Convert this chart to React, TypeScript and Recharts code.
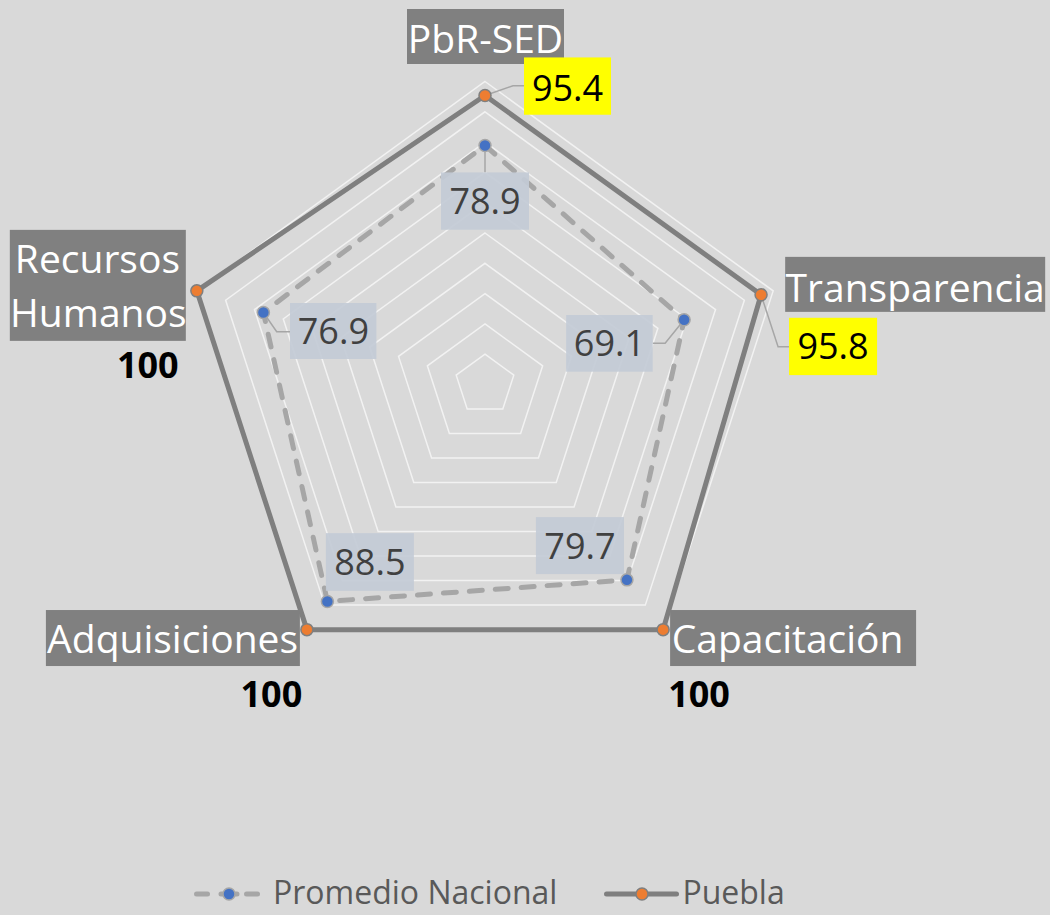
import React from 'react';
import { RadarChart, Radar, PolarGrid, PolarAngleAxis, PolarRadiusAxis, Legend } from 'recharts';

// ---------- data ----------
const categories = ['PbR-SED', 'Transparencia', 'Capacitación', 'Adquisiciones', 'Recursos Humanos'];
const promedioNacional = [78.9, 69.1, 79.7, 88.5, 76.9];
const puebla = [95.4, 95.8, 100, 100, 100];
const seriesNames = ['Promedio Nacional', 'Puebla'];
const radiusDomain: [number, number] = [0, 100];
const radiusTickCount = 11;

const data = categories.map((c, i) => ({
  category: c,
  promedio: promedioNacional[i],
  puebla: puebla[i],
}));

// ---------- layout / style ----------
const W = 1050;
const H = 915;
const CX = 485;
const CY = 384.5;
const R = 303;
const FONT = '"Open Sans", "Noto Sans", "DejaVu Sans", sans-serif';
const BG = '#d9d9d9';
const GREY_DARK = '#7f7f7f';
const GREY_LIGHT = '#a6a6a6';
const ORANGE = '#ed7d31';
const BLUE = '#4472c4';

type CatCfg = { box: [number, number, number, number]; lines: { t: string; x: number; y: number }[] };
// offsets relative to the axis vertex
const CATEGORY_LABELS: Record<string, CatCfg> = {
  'PbR-SED': { box: [-78, -72.5, 157, 55], lines: [{ t: 'PbR-SED', x: 0.5, y: -28.5 }] },
  Transparencia: { box: [12, -34, 260, 55], lines: [{ t: 'Transparencia', x: 142, y: 10.8 }] },
  'Capacitación': { box: [7, -19.6, 246, 56], lines: [{ t: 'Capacitación', x: 124.5, y: 23 }] },
  Adquisiciones: { box: [-261, -19.6, 254, 56], lines: [{ t: 'Adquisiciones', x: -134.3, y: 23 }] },
  'Recursos Humanos': {
    box: [-187, -61, 176, 111],
    lines: [
      { t: 'Recursos', x: -99.4, y: -17.6 },
      { t: 'Humanos', x: -98.5, y: 35.8 },
    ],
  },
};

type ValCfg = { box?: [number, number, number, number]; text: [number, number]; leader?: [number, number][] };
// offsets relative to the data point
const PUEBLA_LABELS: Record<string, ValCfg> = {
  'PbR-SED': { box: [39, -38, 87, 57.3], text: [82.5, 6], leader: [[0, 0], [28, -9.7], [39, -9.7]] },
  Transparencia: { box: [28, 23, 88, 57.3], text: [72, 64], leader: [[0, 0], [17, 52], [28, 52]] },
  'Capacitación': { text: [36, 77.5] },
  Adquisiciones: { text: [-35.5, 77.5] },
  'Recursos Humanos': { text: [-49, 87.5] },
};
const PROMEDIO_LABELS: Record<string, ValCfg> = {
  'PbR-SED': { box: [-44, 27, 88, 57.3], text: [0, 68.5], leader: [[0, 0], [0, 27]] },
  Transparencia: { box: [-118, -4.8, 86.6, 56.7], text: [-74.7, 36.5], leader: [[0, 0], [-19, 23.5], [-31.4, 23.5]] },
  'Capacitación': { box: [-91, -62.8, 88, 57], text: [-47, -21.3] },
  Adquisiciones: { box: [-1.5, -68.3, 88, 57.7], text: [42.5, -26.5] },
  'Recursos Humanos': { box: [26.6, -9.5, 86.4, 56], text: [70, 31.5], leader: [[0, 0], [13.3, 19.2], [26.6, 19.2]] },
};

const fmt = (v: number) => (Number.isInteger(v) ? String(v) : v.toFixed(1));

const CategoryTick = (props: any) => {
  const { x, y, payload } = props;
  const name = payload?.value as string;
  const cfg = CATEGORY_LABELS[name];
  if (!cfg) return null;
  const dx = x - CX;
  const dy = y - CY;
  const len = Math.hypot(dx, dy) || 1;
  const vx = CX + (dx * R) / len;
  const vy = CY + (dy * R) / len;
  const [bx, by, bw, bh] = cfg.box;
  return (
    <g>
      <rect x={vx + bx} y={vy + by} width={bw} height={bh} fill="#808080" />
      {cfg.lines.map((l, i) => (
        <text key={i} x={vx + l.x} y={vy + l.y} textAnchor="middle" fill="#ffffff" fontSize={39} fontFamily={FONT}>
          {l.t}
        </text>
      ))}
    </g>
  );
};

const makeDot = (series: 'promedio' | 'puebla') => (props: any) => {
  const { cx, cy, index } = props;
  const row = data[index];
  if (!row || cx == null || cy == null) return <g key={`d-${series}-${index}`} />;
  const value = series === 'promedio' ? row.promedio : row.puebla;
  const cfg = (series === 'promedio' ? PROMEDIO_LABELS : PUEBLA_LABELS)[row.category];
  const isPuebla = series === 'puebla';
  const bold = isPuebla && value === 100;
  let boxFill = '#c3cbd6';
  let textFill = '#404040';
  if (isPuebla) {
    boxFill = '#ffff00';
    textFill = '#000000';
  }
  return (
    <g key={`d-${series}-${index}`}>
      {cfg?.leader && (
        <polyline
          points={cfg.leader.map(([a, b]) => `${cx + a},${cy + b}`).join(' ')}
          fill="none"
          stroke={GREY_LIGHT}
          strokeWidth={1.5}
        />
      )}
      <circle
        cx={cx}
        cy={cy}
        r={6}
        fill={isPuebla ? ORANGE : BLUE}
        stroke={isPuebla ? GREY_DARK : GREY_LIGHT}
        strokeWidth={1.5}
      />
      {cfg?.box && (
        <rect
          x={cx + cfg.box[0]}
          y={cy + cfg.box[1]}
          width={cfg.box[2]}
          height={cfg.box[3]}
          fill={boxFill}
          fillOpacity={isPuebla ? 1 : 0.92}
        />
      )}
      {cfg && (
        <text
          x={cx + cfg.text[0]}
          y={cy + cfg.text[1]}
          textAnchor="middle"
          fill={textFill}
          fontSize={36}
          fontWeight={bold ? 700 : 400}
          fontFamily={FONT}
        >
          {fmt(value)}
        </text>
      )}
    </g>
  );
};

const LegendIcon = ({ dashed }: { dashed: boolean }) =>
  dashed ? (
    <svg width={70} height={20} style={{ display: 'block', marginTop: 4 }}>
      <line x1={4.5} x2={15.5} y1={10} y2={10} stroke={GREY_LIGHT} strokeWidth={5} strokeLinecap="round" />
      <line x1={29} x2={45} y1={10} y2={10} stroke={GREY_LIGHT} strokeWidth={5} strokeLinecap="round" />
      <line x1={54.5} x2={65.5} y1={10} y2={10} stroke={GREY_LIGHT} strokeWidth={5} strokeLinecap="round" />
      <circle cx={37} cy={10} r={6} fill={BLUE} stroke={GREY_LIGHT} strokeWidth={1.5} />
    </svg>
  ) : (
    <svg width={75} height={20} style={{ display: 'block', marginTop: 4 }}>
      <line x1={2.5} x2={72.5} y1={10} y2={10} stroke={GREY_DARK} strokeWidth={5} strokeLinecap="round" />
      <circle cx={38} cy={10} r={6} fill={ORANGE} stroke={GREY_DARK} strokeWidth={1.5} />
    </svg>
  );

const renderLegend = (props: any) => {
  const payload: any[] = props?.payload ?? [];
  const items = payload.length ? payload.map((p) => String(p.value)) : seriesNames;
  return (
    <div
      style={{
        display: 'flex',
        alignItems: 'center',
        height: 32,
        paddingLeft: 192,
        fontFamily: FONT,
        fontSize: 32,
        lineHeight: '32px',
        color: '#595959',
        whiteSpace: 'nowrap',
      }}
    >
      {items.map((name, i) => {
        const dashed = name === seriesNames[0];
        return (
          <div key={name} style={{ display: 'flex', alignItems: 'center', height: 32, marginRight: i === 0 ? 47 : 0 }}>
            <LegendIcon dashed={dashed} />
            <span style={{ marginLeft: dashed ? 11 : 3, lineHeight: '32px' }}>{name}</span>
          </div>
        );
      })}
    </div>
  );
};

export default function App() {
  return (
    <div
      style={{
        position: 'absolute',
        left: 0,
        top: 0,
        width: W,
        height: H,
        background: BG,
        fontFamily: FONT,
        overflow: 'hidden',
      }}
    >
      <RadarChart
        width={W}
        height={H}
        data={data}
        cx={CX}
        cy={CY}
        outerRadius={R}
        startAngle={90}
        endAngle={-270}
        margin={{ top: 0, right: 0, bottom: 0, left: 0 }}
      >
        <PolarGrid gridType="polygon" radialLines={false} stroke="#f2f2f2" strokeWidth={1.5} />
        <PolarRadiusAxis
          domain={radiusDomain}
          tickCount={radiusTickCount}
          tick={false}
          axisLine={false}
          tickLine={false}
        />
        <Radar
          name={seriesNames[0]}
          dataKey="promedio"
          stroke={GREY_LIGHT}
          strokeWidth={5}
          strokeDasharray="13 13"
          strokeLinecap="round"
          fill="none"
          fillOpacity={0}
          dot={makeDot('promedio')}
          isAnimationActive={false}
        />
        <Radar
          name={seriesNames[1]}
          dataKey="puebla"
          stroke={GREY_DARK}
          strokeWidth={5}
          fill="none"
          fillOpacity={0}
          dot={makeDot('puebla')}
          isAnimationActive={false}
        />
        <PolarAngleAxis dataKey="category" tick={CategoryTick} tickLine={false} axisLine={false} />
        <Legend
          content={renderLegend}
          wrapperStyle={{ position: 'absolute', top: 876, left: 0, width: W, height: 32 }}
        />
      </RadarChart>
    </div>
  );
}
